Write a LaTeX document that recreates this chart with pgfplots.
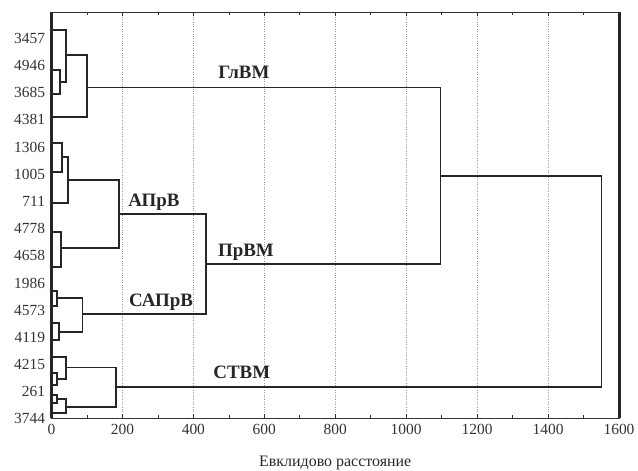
\documentclass[border=0pt]{standalone}
\usepackage{fontspec}
\setmainfont{Liberation Serif}
\usepackage{pgfplots}
\pgfplotsset{compat=1.18}
\usetikzlibrary{calc}
\begin{document}
\begin{tikzpicture}
\begin{axis}[
  scale only axis, width=567.5bp, height=406bp,
  xmin=0, xmax=1600, ymin=12, ymax=418, y dir=reverse,
  clip=false,
  xtick={0,200,...,1600}, minor x tick num=1,
  ytick={38.3,65.5,92.7,119.9,147.1,174.3,201.5,228.7,255.9,283.1,310.3,337.5,364.7,391.9,418},
  yticklabels={3457,4946,3685,4381,1306,1005,711,4778,4658,1986,4573,4119,4215,261,3744},
  tick align=inside,
  xtick pos=both,
  ytick style={draw=none},
  major tick length=4bp, minor tick length=3bp,
  tick style={black!80, line width=0.6bp},
  xmajorgrids, grid style={dotted, black!40, line width=0.5bp},
  /pgf/number format/1000 sep={},
  /pgf/number format/assume math mode=true,
  every tick label/.append style={font=\fontsize{15.5}{15.5}\selectfont, text=black!80},
  yticklabel style={xshift=-3bp},
  xticklabel style={yshift=-3bp},
  xlabel={Евклидово расстояние},
  xlabel style={at={(axis description cs:0.5,0)}, anchor=base, yshift=-48bp, font=\fontsize{16}{16}\selectfont, text=black!85},
  axis line style={line width=0.8bp, black!80},
  cycle list={{black}},
  every axis plot post/.append style={black!85, solid, line width=1.7bp, mark=none, line join=miter},
]
% group 1
\addplot coordinates {(0,70) (24,70) (24,94) (0,94)};
\addplot coordinates {(0,30) (40,30) (40,82) (24,82)};
\addplot coordinates {(40,55) (101,55) (101,117.3) (0,117.3)};
% group 2
\addplot coordinates {(0,142.7) (29,142.7) (29,171.7) (0,171.7)};
\addplot coordinates {(29,157) (47,157) (47,202.7) (0,202.7)};
\addplot coordinates {(0,231.7) (27,231.7) (27,266.7) (0,266.7)};
\addplot coordinates {(47,180) (191,180) (191,248.3) (27,248.3)};
% group 3
\addplot coordinates {(0,290.7) (16,290.7) (16,306) (0,306)};
\addplot coordinates {(0,323.3) (21,323.3) (21,340) (0,340)};
\addplot coordinates {(16,298.3) (87,298.3) (87,331.7) (21,331.7)};
\addplot coordinates {(191,214.3) (436,214.3) (436,314.3) (87,314.3)};
% group 4
\addplot coordinates {(0,373.3) (16,373.3) (16,385) (0,385)};
\addplot coordinates {(0,356.7) (41,356.7) (41,379) (16,379)};
\addplot coordinates {(0,395) (15,395) (15,403.3) (0,403.3)};
\addplot coordinates {(15,399) (41,399) (41,413.3) (0,413.3)};
\addplot coordinates {(41,367.5) (181,367.5) (181,407) (41,407)};
% top levels
\addplot coordinates {(101,87.5) (1097,87.5) (1097,264.3) (436,264.3)};
\addplot coordinates {(1097,175.8) (1551,175.8) (1551,387.3) (181,387.3)};
% thick side frames
\draw[line width=3bp, black!85] (rel axis cs:0,0) -- (rel axis cs:0,1);
\draw[line width=3bp, black!85] (rel axis cs:1,0) -- (rel axis cs:1,1);
% cluster labels
\begin{scope}[every node/.style={anchor=base west, inner sep=0pt, font=\fontsize{19}{19}\selectfont\bfseries, text=black!85}]
\node at (axis cs:470,78.3) {ГлВМ};
\node at (axis cs:216.5,206) {АПрВ};
\node at (axis cs:469,256) {ПрВМ};
\node at (axis cs:218.5,306) {САПрВ};
\node at (axis cs:456,378.3) {СТВМ};
\end{scope}
\end{axis}
\pgfresetboundingbox
\path ($(current axis.south west)+(-51.5bp,-53bp)$) rectangle ($(current axis.north east)+(19bp,12bp)$);
\end{tikzpicture}
\end{document}
